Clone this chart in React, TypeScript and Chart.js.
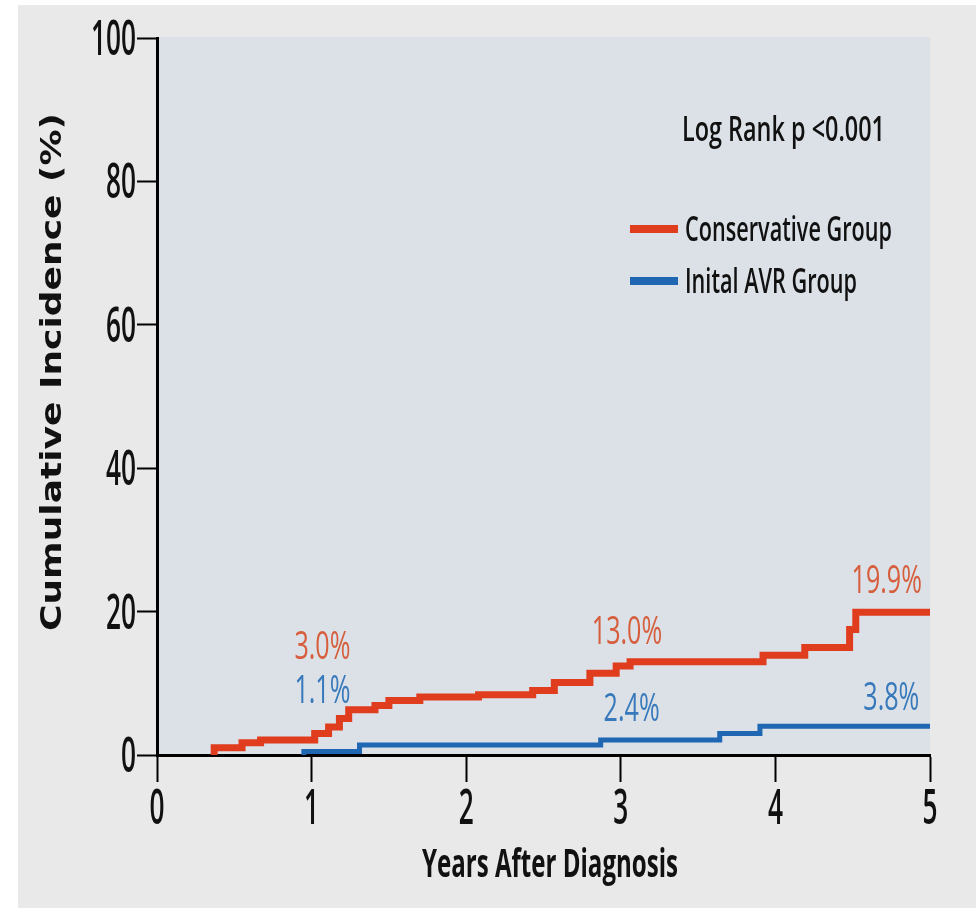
import React, { useEffect, useRef } from "react";
import { Chart, registerables } from "chart.js";

Chart.register(...registerables);

// ---- Data ----
const conservativeTimes = [0.37, 0.37, 0.55, 0.67, 1.02, 1.11, 1.18, 1.24, 1.41, 1.5, 1.7, 2.08, 2.43, 2.57, 2.8, 2.97, 3.06, 3.92, 4.19, 4.48, 4.52, 5.0];
const conservativeValues = [0, 1.0, 1.7, 2.1, 3.0, 3.9, 5.1, 6.3, 6.9, 7.6, 8.1, 8.4, 9.0, 10.1, 11.4, 12.4, 13.0, 13.9, 15.0, 17.5, 19.9, 19.9];

const avrTimes = [0.95, 0.95, 1.31, 2.87, 3.64, 3.9, 5.0];
const avrValues = [0, 0.5, 1.4, 2.1, 3.0, 4.0, 4.0];

const seriesNames = ["Conservative Group", "Inital AVR Group"];
const xTickValues = [0, 1, 2, 3, 4, 5];
const yTickValues = [0, 20, 40, 60, 80, 100];

const annotationTexts = ["3.0%", "1.1%", "13.0%", "2.4%", "19.9%", "3.8%"];
const annotationSeries = [0, 1, 0, 1, 0, 1];
const annotationX = [1.07, 1.07, 3.04, 3.07, 4.72, 4.75];
const annotationY = [15.2, 9.1, 17.3, 6.6, 24.4, 8.1];

const xTitle = "Years After Diagnosis";
const yTitle = "Cumulative Incidence (%)";
const pValueText = "Log Rank p <0.001";

// ---- Styles ----
const RED = "#e03c1e";
const BLUE = "#1f66b3";
const RED_TEXT = "#d65e3c";
const BLUE_TEXT = "#3779ba";
const COND = "'Open Sans', 'Noto Sans', 'DejaVu Sans', sans-serif";

function drawSq(
  ctx: CanvasRenderingContext2D,
  text: string,
  x: number,
  y: number,
  font: string,
  sx: number,
  color: string,
  align: CanvasTextAlign,
  baseline: CanvasTextBaseline,
  rot = 0
) {
  ctx.save();
  ctx.translate(x, y);
  if (rot) ctx.rotate(rot);
  ctx.scale(sx, 1);
  ctx.font = font;
  ctx.fillStyle = color;
  ctx.textAlign = align;
  ctx.textBaseline = baseline;
  ctx.fillText(text, 0, 0);
  ctx.restore();
}

function fitScale(ctx: CanvasRenderingContext2D, font: string, text: string, width: number) {
  ctx.save();
  ctx.font = font;
  const w = ctx.measureText(text).width;
  ctx.restore();
  return w > 0 ? width / w : 1;
}

const decorPlugin = {
  id: "decor",
  beforeDraw(chart: any) {
    const { ctx, chartArea } = chart;
    ctx.save();
    ctx.fillStyle = "#ffffff";
    ctx.fillRect(0, 0, chart.width, chart.height);
    ctx.fillStyle = "#e9e9e9";
    ctx.fillRect(18, 5, chart.width - 18, chart.height - 5);
    ctx.fillStyle = "#dbe1e7";
    ctx.fillRect(chartArea.left, chartArea.top - 1, chartArea.right - chartArea.left, chartArea.bottom - chartArea.top + 1);
    ctx.restore();
  },
  afterDraw(chart: any) {
    const { ctx } = chart;
    const xs = chart.scales.x;
    const ys = chart.scales.y;

    // tick labels
    const tickFont = `600 48px ${COND}`;
    const tickSx = fitScale(ctx, tickFont, "0", 15);
    ys.ticks.forEach((t: any) => {
      const py = ys.getPixelForValue(t.value);
      drawSq(ctx, String(t.value), 136, py + 17, tickFont, tickSx, "#111", "right", "alphabetic");
    });
    xs.ticks.forEach((t: any) => {
      const px = xs.getPixelForValue(t.value);
      drawSq(ctx, String(t.value), px, 824, tickFont, tickSx, "#111", "center", "alphabetic");
    });

    // axis titles
    const xtFont = `bold 40px ${COND}`;
    drawSq(ctx, xTitle, 550, 877, xtFont, fitScale(ctx, xtFont, xTitle, 256), "#111", "center", "alphabetic");
    const ytFont = `bold 29px 'DejaVu Sans', sans-serif`;
    drawSq(ctx, yTitle, 53, 372, ytFont, fitScale(ctx, ytFont, yTitle, 518), "#111", "center", "middle", -Math.PI / 2);

    // p-value
    const pFont = `600 34px ${COND}`;
    drawSq(ctx, pValueText, 682, 141, pFont, fitScale(ctx, pFont, pValueText, 203), "#111", "left", "alphabetic");

    // legend
    const lFont = `600 34px ${COND}`;
    const legendY = [229, 281];
    const legendW = [207, 172];
    const colors = [RED, BLUE];
    seriesNames.forEach((name, i) => {
      ctx.save();
      ctx.strokeStyle = colors[i];
      ctx.lineWidth = 8;
      ctx.beginPath();
      ctx.moveTo(630, legendY[i]);
      ctx.lineTo(678, legendY[i]);
      ctx.stroke();
      ctx.restore();
      drawSq(ctx, name, 685, legendY[i] + 12, lFont, fitScale(ctx, lFont, name, legendW[i]), "#111", "left", "alphabetic");
    });

    // annotations
    const aFont = `500 38px ${COND}`;
    const aSx = fitScale(ctx, aFont, "3.0%", 56);
    annotationTexts.forEach((txt, i) => {
      const px = xs.getPixelForValue(annotationX[i]);
      const py = ys.getPixelForValue(annotationY[i]);
      drawSq(ctx, txt, px, py + 13, aFont, aSx, annotationSeries[i] === 0 ? RED_TEXT : BLUE_TEXT, "center", "alphabetic");
    });
  },
};

export default function App() {
  const ref = useRef<HTMLCanvasElement | null>(null);
  useEffect(() => {
    if (!ref.current) return;
    const chart = new Chart(ref.current, {
      type: "line",
      data: {
        datasets: [
          {
            label: seriesNames[0],
            data: conservativeTimes.map((t, i) => ({ x: t, y: conservativeValues[i] })),
            borderColor: RED,
            borderWidth: 7,
            stepped: "before",
            pointRadius: 0,
            fill: false,
            borderCapStyle: "butt",
            borderJoinStyle: "miter",
          },
          {
            label: seriesNames[1],
            data: avrTimes.map((t, i) => ({ x: t, y: avrValues[i] })),
            borderColor: BLUE,
            borderWidth: 5,
            stepped: "before",
            pointRadius: 0,
            fill: false,
            borderCapStyle: "butt",
            borderJoinStyle: "miter",
          },
        ],
      },
      options: {
        animation: false,
        responsive: false,
        devicePixelRatio: 1,
        layout: { padding: { top: 38, right: 46, left: 0, bottom: 0 } },
        plugins: { legend: { display: false }, tooltip: { enabled: false } },
        scales: {
          x: {
            type: "linear",
            min: 0,
            max: 5,
            afterBuildTicks: (s: any) => {
              s.ticks = xTickValues.map((v) => ({ value: v }));
            },
            ticks: { display: false },
            grid: { drawOnChartArea: false, drawTicks: true, tickLength: 27, tickWidth: 2, tickColor: "#000" },
            border: { display: true, color: "#000", width: 3 },
            afterFit: (s: any) => {
              s.height = 908 - 755;
            },
          },
          y: {
            type: "linear",
            min: 0,
            max: 100,
            afterBuildTicks: (s: any) => {
              s.ticks = yTickValues.map((v) => ({ value: v }));
            },
            ticks: { display: false },
            grid: { drawOnChartArea: false, drawTicks: true, tickLength: 20, tickWidth: 2, tickColor: "#000" },
            border: { display: true, color: "#000", width: 3 },
            afterFit: (s: any) => {
              s.width = 157;
            },
          },
        },
      },
      plugins: [decorPlugin],
    } as any);
    return () => chart.destroy();
  }, []);
  return (
    <div style={{ position: "absolute", left: 0, top: 0, width: 976, height: 908, background: "#fff" }}>
      <canvas ref={ref} width={976} height={908} style={{ display: "block" }} />
    </div>
  );
}
